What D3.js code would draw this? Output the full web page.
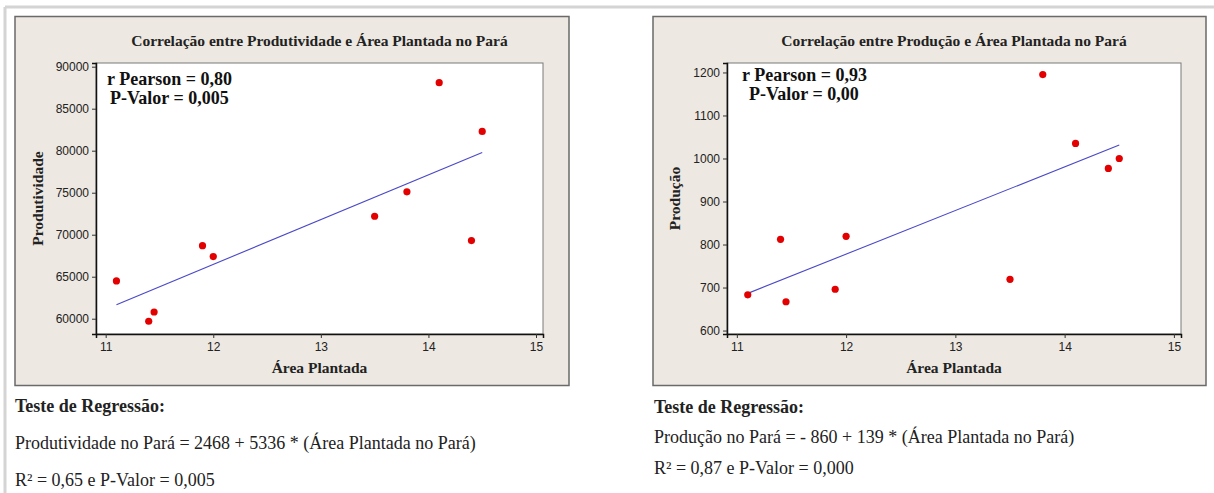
<!DOCTYPE html>
<html>
<head>
<meta charset="utf-8">
<script src="https://cdn.jsdelivr.net/npm/d3@7"></script>
<style>
  html, body { margin: 0; padding: 0; background: #ffffff; }
  svg { display: block; }
</style>
</head>
<body>
<svg id="chart" width="1214" height="493"></svg>
<script>
// ---------- DATA ----------
const areaPlantada = [11.1, 11.4, 11.45, 11.9, 12.0, 13.5, 13.8, 14.1, 14.4, 14.5];
const produtividade = [64500, 59700, 60800, 68700, 67400, 72200, 75100, 88100, 69300, 82300];
const producao = [683, 812, 667, 696, 819, 719, 1195, 1035, 977, 1000];

const xTicks = [11, 12, 13, 14, 15];
const yTicksProdutividade = [60000, 65000, 70000, 75000, 80000, 85000, 90000];
const yTicksProducao = [600, 700, 800, 900, 1000, 1100, 1200];

const titles = ["Correlação entre Produtividade e Área Plantada no Pará",
                "Correlação entre Produção e Área Plantada no Pará"];
const yLabels = ["Produtividade", "Produção"];
const xLabel = "Área Plantada";
const pearsonTexts = [["r Pearson = 0,80", "P-Valor = 0,005"], ["r Pearson = 0,93", "P-Valor = 0,00"]];
const regressionTexts = [
  ["Teste de Regressão:", "Produtividade no Pará = 2468 + 5336 * (Área Plantada no Pará)", "R² = 0,65 e P-Valor = 0,005"],
  ["Teste de Regressão:", "Produção no Pará = - 860 + 139 * (Área Plantada no Pará)", "R² = 0,87 e P-Valor = 0,000"]
];

// ---------- LAYOUT ----------
const svg = d3.select("#chart");
const SERIF = "'Liberation Serif', 'Times New Roman', serif";
const SANS = "'Liberation Sans', Arial, sans-serif";

// outer page frame
svg.append("line").attr("x1", 5).attr("x2", 1214).attr("y1", 7).attr("y2", 7)
  .attr("stroke", "#d4d4d4").attr("stroke-width", 3);
svg.append("line").attr("x1", 5).attr("x2", 5).attr("y1", 7).attr("y2", 493)
  .attr("stroke", "#d4d4d4").attr("stroke-width", 3);

function linReg(xs, ys) {
  const mx = d3.mean(xs), my = d3.mean(ys);
  let sxy = 0, sxx = 0;
  xs.forEach((x, i) => { sxy += (x - mx) * (ys[i] - my); sxx += (x - mx) * (x - mx); });
  const b = sxy / sxx;
  return { a: my - b * mx, b };
}

const panels = [
  { px: 15, py: 16.5, pw: 554, ph: 369, plot: { x: 96, y: 63, w: 447, h: 271 },
    yDomain: [58180, 90440], yTicks: yTicksProdutividade, ys: produtividade,
    yLabelX: 43, pear: [[107, 85], [110, 104]],
    textX: 15, textYs: [412, 449, 486] },
  { px: 653, py: 16.5, pw: 553, ph: 369, plot: { x: 727, y: 63, w: 454, h: 271 },
    yDomain: [592, 1222], yTicks: yTicksProducao, ys: producao,
    yLabelX: 680, pear: [[742, 81], [749, 100]],
    textX: 654, textYs: [413, 443, 474] }
];

panels.forEach((p, k) => {
  const g = svg.append("g");
  // panel
  g.append("rect").attr("x", p.px).attr("y", p.py).attr("width", p.pw).attr("height", p.ph)
    .attr("fill", "#ede8e1").attr("stroke", "#6a6a6a").attr("stroke-width", 1.5);

  const x = d3.scaleLinear().domain([10.91, 15.065]).range([p.plot.x, p.plot.x + p.plot.w]);
  const y = d3.scaleLinear().domain(p.yDomain).range([p.plot.y + p.plot.h, p.plot.y]);

  // plot area
  g.append("rect").attr("x", p.plot.x).attr("y", p.plot.y).attr("width", p.plot.w).attr("height", p.plot.h)
    .attr("fill", "#ffffff").attr("stroke", "#7a7a7a").attr("stroke-width", 1);

  // axes
  const xAxis = g.append("g").attr("transform", `translate(0,${p.plot.y + p.plot.h})`)
    .call(d3.axisBottom(x).tickValues(xTicks).tickSize(4).tickPadding(4).tickFormat(d3.format("d")));
  const yAxis = g.append("g").attr("transform", `translate(${p.plot.x},0)`)
    .call(d3.axisLeft(y).tickValues(p.yTicks).tickSize(4).tickPadding(3).tickFormat(d3.format("d")));
  [xAxis, yAxis].forEach(ax => {
    ax.select(".domain").attr("stroke", "#111").attr("stroke-width", 1.5);
    ax.selectAll(".tick line").attr("stroke", "#333");
    ax.selectAll(".tick text").attr("fill", "#222").style("font-family", SANS).style("font-size", "12px");
  });

  // title
  g.append("text").attr("x", p.plot.x + p.plot.w / 2).attr("y", 46).attr("text-anchor", "middle")
    .style("font-family", SERIF).style("font-weight", "bold").style("font-size", "15.5px").attr("fill", "#222")
    .text(titles[k]);
  // x label
  g.append("text").attr("x", p.plot.x + p.plot.w / 2).attr("y", 373).attr("text-anchor", "middle")
    .style("font-family", SERIF).style("font-weight", "bold").style("font-size", "15.5px").attr("fill", "#222")
    .text(xLabel);
  // y label
  g.append("text").attr("transform", `translate(${p.yLabelX},${p.plot.y + p.plot.h / 2}) rotate(-90)`)
    .attr("text-anchor", "middle")
    .style("font-family", SERIF).style("font-weight", "bold").style("font-size", "15.5px").attr("fill", "#222")
    .text(yLabels[k]);

  // regression line
  const r = linReg(areaPlantada, p.ys);
  const xr = d3.extent(areaPlantada);
  g.append("line")
    .attr("x1", x(xr[0])).attr("y1", y(r.a + r.b * xr[0]))
    .attr("x2", x(xr[1])).attr("y2", y(r.a + r.b * xr[1]))
    .attr("stroke", "#4a48c8").attr("stroke-width", 1.1);

  // points
  g.selectAll("circle.pt").data(areaPlantada.map((v, i) => [v, p.ys[i]])).enter()
    .append("circle").attr("class", "pt")
    .attr("cx", d => x(d[0])).attr("cy", d => y(d[1])).attr("r", 3.6).attr("fill", "#e30000");

  // pearson annotation
  pearsonTexts[k].forEach((t, i) => {
    g.append("text").attr("x", p.pear[i][0]).attr("y", p.pear[i][1])
      .style("font-family", SERIF).style("font-weight", "bold").style("font-size", "18px").attr("fill", "#111")
      .text(t);
  });

  // regression text below
  regressionTexts[k].forEach((t, i) => {
    g.append("text").attr("x", p.textX).attr("y", p.textYs[i])
      .style("font-family", SERIF).style("font-weight", i === 0 ? "bold" : "normal")
      .style("font-size", "18px").attr("fill", "#222")
      .text(t);
  });
});
</script>
</body>
</html>
